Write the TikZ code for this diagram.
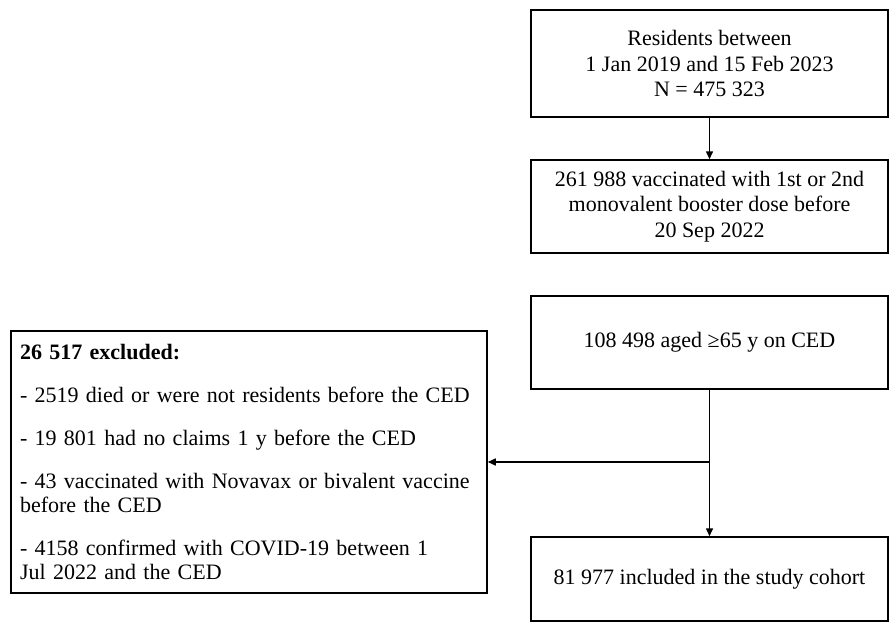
\documentclass[tikz,border=0pt]{standalone}
\usepackage{fontspec}
\setmainfont{Liberation Serif}
\usetikzlibrary{arrows.meta}

\tikzset{
  stage/.style={draw, line width=1.5pt, minimum width=357pt, align=center,
    inner sep=0pt, font=\fontsize{22}{25.5}\selectfont},
  flow/.style={-{Triangle[length=8pt,width=7pt]}, line width=1.5pt},
}

\begin{document}
\begin{tikzpicture}[x=1pt,y=-1pt]
\useasboundingbox (0,0) rectangle (891,623);
% main chain
\node[stage, minimum height=107pt] (res) at (709.5,63.5) {Residents between\\1 Jan 2019 and 15 Feb 2023\\N = 475 323};
\node[stage, minimum height=93pt] (vac) at (709.5,206.5) {261 988 vaccinated with 1st or 2nd\\monovalent booster dose before\\20 Sep 2022};
\node[stage, minimum height=93pt] (age) at (709.5,342.5) {108 498 aged ≥65 y on CED};
\node[stage, minimum height=84pt] (coh) at (709.5,579) {81 977 included in the study cohort};
% exclusions
\node[draw, line width=1.5pt, text width=458pt, inner xsep=9pt, inner ysep=0pt,
  minimum height=262pt, align=left, font=\fontsize{22}{24}\selectfont] (excl) at (249,462)
  {\textbf{26 517 excluded:}\\[19pt]
   - 2519 died or were not residents before the CED\\[19pt]
   - 19 801 had no claims 1 y before the CED\\[19pt]
   - 43 vaccinated with Novavax or bivalent vaccine\\before the CED\\[19pt]
   - 4158 confirmed with COVID-19 between 1\\Jul 2022 and the CED};

\draw[flow] (res) -- (vac);
\draw[flow] (age) -- (coh);
\draw[flow] (age.south |- excl.east) -- (excl.east);
\end{tikzpicture}
\end{document}
